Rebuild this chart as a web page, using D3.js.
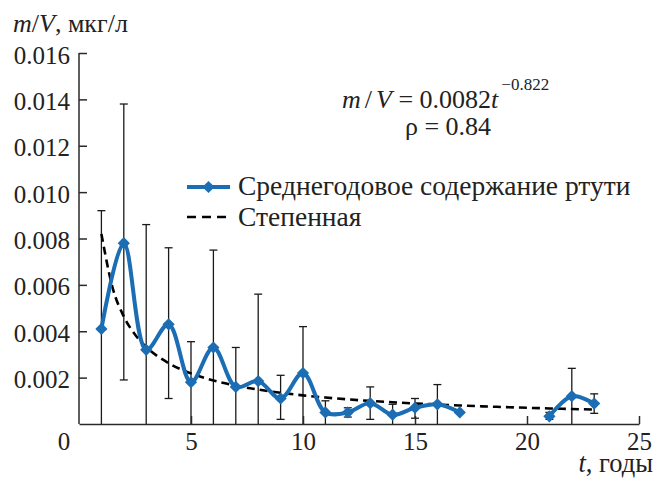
<!DOCTYPE html>
<html><head><meta charset="utf-8">
<script src="https://cdn.jsdelivr.net/npm/d3@7"></script>
</head>
<body style="margin:0;padding:0;background:#fff;"><svg id="c" width="656" height="478" style="display:block"></svg>
<script>
// ---- data ----
const years    = [1,2,3,4,5,6,7,8,9,10,11,12,13,14,15,16,17,21,22,23];
const meanConc = [0.0041,0.0078,0.0032,0.0043,0.0018,0.0033,0.0016,0.00185,0.0011,0.0022,0.0005,0.0005,0.0009,0.0004,0.0007,0.00085,0.0005,0.00033,0.0012,0.00088];
const errHigh  = [0.0092,0.0138,0.0086,0.0076,0.00355,0.0075,0.0033,0.0056,0.0021,0.0042,0.0010,0.0007,0.0016,0.00085,0.0011,0.0017,null,0.0005,0.0024,0.0013];
const errLow   = [0,0.0019,0,0.0011,0,0,0,0,0.0002,0,0,0.0003,0.0002,0,0.00025,0,null,0.0002,0,0.00046];
const fitT     = [1,1.5,2,2.5,3,4,5,6,7,8,9,10,11,12,13,14,15,16,17,18,19,20,21,22,23];
const fitV     = [0.0082,0.005876,0.004639,0.003861,0.003324,0.002624,0.002184,0.001880,0.001657,0.001484,0.001347,0.001236,0.001142,0.001064,0.000996,0.000937,0.000885,0.000840,0.000799,0.000762,0.000729,0.000699,0.000671,0.000646,0.000623];
const yTicks   = [0.002,0.004,0.006,0.008,0.010,0.012,0.014,0.016];
const xTicks   = [5,10,15,20,25];
const seriesName = "Среднегодовое содержание ртути";
const fitName    = "Степенная";

// ---- layout ----
const svg = d3.select("#c");
const X0 = 79, X1 = 639, Y0 = 424, Y1 = 53;
const x = d3.scaleLinear().domain([0,25]).range([X0,X1]);
const y = d3.scaleLinear().domain([0,0.016]).range([Y0,Y1]);
const blue = "#1b6db4";
const axisCol = "#2a2a2a";
const FONT = '"Liberation Serif", "Times New Roman", monospace';

// error bars
const eb = svg.append("g").attr("stroke","#1a1a1a").attr("stroke-width",1.3);
years.forEach((t,i)=>{
  if (errHigh[i]==null) return;
  const xx = x(t), yh = y(errHigh[i]), yl = y(errLow[i]);
  eb.append("line").attr("x1",xx).attr("x2",xx).attr("y1",yh).attr("y2",yl);
  eb.append("line").attr("x1",xx-4).attr("x2",xx+4).attr("y1",yh).attr("y2",yh);
  if (errLow[i]>0) eb.append("line").attr("x1",xx-4).attr("x2",xx+4).attr("y1",yl).attr("y2",yl);
});

// axes
const yAxis = d3.axisLeft(y).tickValues(yTicks).tickFormat(d3.format(".3f")).tickSizeInner(-8).tickSizeOuter(0).tickPadding(9);
const gy = svg.append("g").attr("transform",`translate(${X0},0)`).call(yAxis);
const xAxis = d3.axisBottom(x).tickValues(xTicks).tickFormat(d3.format("d")).tickSizeInner(-8).tickSizeOuter(0).tickPadding(26);
const gx = svg.append("g").attr("transform",`translate(0,${Y0})`).call(xAxis);
[gx,gy].forEach(g=>{
  g.selectAll("path.domain").attr("stroke",axisCol).attr("stroke-width",1.5);
  g.selectAll(".tick line").attr("stroke",axisCol).attr("stroke-width",1.5);
  g.selectAll("text").attr("fill","#222").attr("class","tk");
});
gy.selectAll("text").attr("dy","0.4em");
gx.selectAll("text").attr("dy","0").attr("y",26);
gy.select("path.domain").attr("d",`M0,${Y0}V${Y1}`);

const txt = svg.append("g").attr("fill","#222");
txt.append("text").attr("class","tk").attr("x",x(0)-15).attr("y",Y0+26).attr("text-anchor","middle").text("0");

// fit curve
const fitLine = d3.line().x((d,i)=>x(fitT[i])).y(d=>y(d)).curve(d3.curveMonotoneX);
svg.append("path").attr("d",fitLine(fitV)).attr("fill","none").attr("stroke","#000")
  .attr("stroke-width",2.6).attr("stroke-dasharray","8,5");

// mean series (smoothed, gap 17 -> 21)
const pts = years.map((t,i)=>({t, v:meanConc[i]}));
const segs = [pts.filter(p=>p.t<=17), pts.filter(p=>p.t>=21)];
const line = d3.line().x(d=>x(d.t)).y(d=>y(d.v)).curve(d3.curveCatmullRom.alpha(0.5));
segs.forEach(s=>svg.append("path").attr("d",line(s)).attr("fill","none").attr("stroke",blue)
  .attr("stroke-width",4).attr("stroke-linejoin","round"));
const sym = d3.symbol().type(d3.symbolDiamond2).size(95);
svg.append("g").selectAll("path").data(pts).join("path")
  .attr("transform",d=>`translate(${x(d.t)},${y(d.v)})`).attr("d",sym).attr("fill",blue);

// legend
const lg = svg.append("g").attr("fill","#222");
lg.append("line").attr("x1",187).attr("x2",230).attr("y1",187).attr("y2",187).attr("stroke",blue).attr("stroke-width",4);
lg.append("path").attr("transform","translate(208.5,187)").attr("d",sym).attr("fill",blue);
lg.append("text").attr("class","lgt").attr("x",238).attr("y",195).text(seriesName);
lg.append("line").attr("x1",187).attr("x2",230).attr("y1",217).attr("y2",217).attr("stroke","#000").attr("stroke-width",2.6).attr("stroke-dasharray","9,6");
lg.append("text").attr("class","lgt").attr("x",238).attr("y",226).text(fitName);

// equation
const eq = txt.append("text").attr("class","eq").attr("x",342).attr("y",108);
eq.append("tspan").attr("font-style","italic").text("m");
eq.append("tspan").attr("dx",4).text("/");
eq.append("tspan").attr("dx",4).attr("font-style","italic").text("V");
eq.append("tspan").text(" = 0.0082");
eq.append("tspan").attr("font-style","italic").text("t");
eq.append("tspan").attr("class","sup").attr("dx",3).attr("dy",-18).text("−0.822");
txt.append("text").attr("class","eq").attr("x",448).attr("y",135).attr("text-anchor","middle").text("ρ = 0.84");

// axis titles
const yt = txt.append("text").attr("class","eq").attr("x",13).attr("y",32);
yt.append("tspan").attr("font-style","italic").text("m");
yt.append("tspan").text("/");
yt.append("tspan").attr("font-style","italic").text("V");
yt.append("tspan").text(", мкг/л");
const xt = txt.append("text").attr("class","xt").attr("x",653).attr("y",472).attr("text-anchor","end");
xt.append("tspan").attr("font-style","italic").text("t");
xt.append("tspan").text(", годы");

svg.selectAll("text").style("font-family",FONT);
svg.selectAll("text.tk").style("font-size","25px");
svg.selectAll("text.eq").style("font-size","26px");
svg.selectAll("text.lgt").style("font-size","27.5px");
svg.selectAll("text.xt").style("font-size","26.5px");
svg.selectAll("tspan.sup").style("font-size","17px");
</script></body></html>
